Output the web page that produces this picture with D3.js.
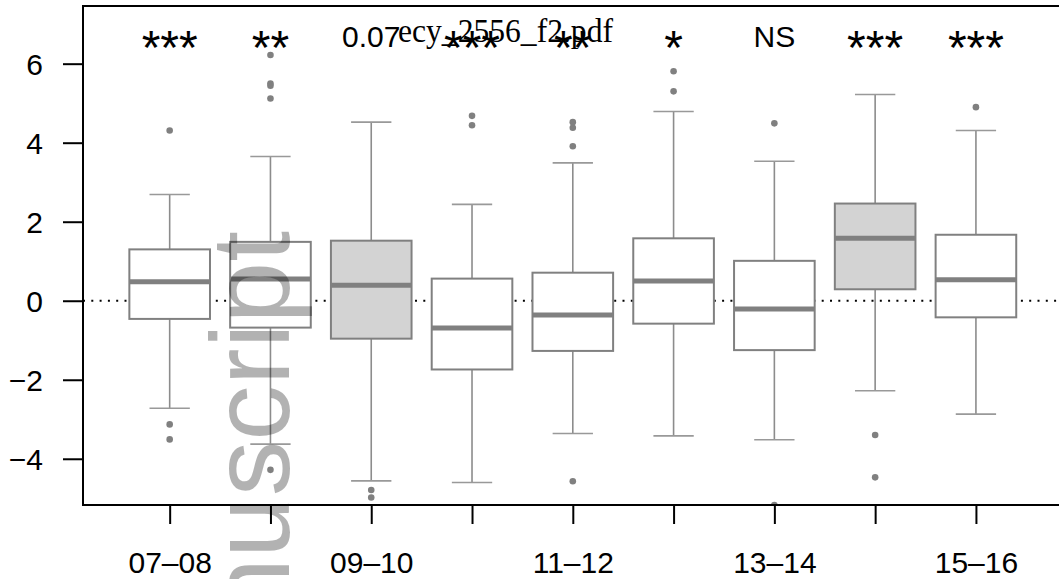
<!DOCTYPE html>
<html>
<head>
<meta charset="utf-8">
<script src="https://cdn.jsdelivr.net/npm/d3@7"></script>
<style>
  body { margin: 0; background: #fff; }
  svg { display: block; }
</style>
</head>
<body>
<script>
// seasons on the x axis (only every other one gets a label)
var seasons = ["07–08", "08–09", "09–10", "10–11", "11–12", "12–13", "13–14", "14–15", "15–16"];
var shownLabels = ["07–08", "09–10", "11–12", "13–14", "15–16"];

// box statistics
var q1 = [-0.46, -0.68, -0.96, -1.74, -1.27, -0.58, -1.25, 0.29, -0.42];
var median = [0.48, 0.55, 0.39, -0.69, -0.36, 0.50, -0.21, 1.58, 0.53];
var q3 = [1.30, 1.49, 1.52, 0.56, 0.71, 1.58, 1.01, 2.46, 1.67];
var whiskerLo = [-2.72, -3.63, -4.56, -4.60, -3.36, -3.42, -3.52, -2.28, -2.87];
var whiskerHi = [2.69, 3.65, 4.52, 2.44, 3.49, 4.79, 3.53, 5.22, 4.31];
var outliers = [
  [4.31, -3.13, -3.51],
  [6.22, 5.50, 5.44, 5.12, -4.28],
  [-4.79, -4.98],
  [4.68, 4.44],
  [4.52, 4.38, 3.91, -4.57],
  [5.81, 5.30],
  [4.49, -5.17],
  [-3.40, -4.47],
  [4.90]
];
var shaded = [false, false, true, false, false, false, false, true, false];
var signif = ["***", "**", "0.07", "***", "**", "*", "NS", "***", "***"];
var yTicks = [-4, -2, 0, 2, 4, 6];

var width = 1059, height = 579;
var plotLeft = 83, plotTop = 6, plotBottom = 505, plotRight = 1062.6;
var font = "'Liberation Sans', Arial, sans-serif";
var gray = "#808080";

var svg = d3.select("body").append("svg")
  .attr("width", width)
  .attr("height", height);

var x = d3.scaleLinear().domain([0.14, 9.86]).range([plotLeft, plotRight]);
var y = d3.scaleLinear().domain([-5.17, 7.46]).range([plotBottom, plotTop]);

svg.append("defs").append("clipPath").attr("id", "plotclip")
  .append("rect")
  .attr("x", plotLeft).attr("y", plotTop)
  .attr("width", plotRight - plotLeft).attr("height", plotBottom - plotTop);

var plot = svg.append("g").attr("clip-path", "url(#plotclip)");

// zero reference line
plot.append("line")
  .attr("x1", plotLeft).attr("x2", plotRight)
  .attr("y1", y(0)).attr("y2", y(0))
  .attr("stroke", "#000")
  .attr("stroke-width", 2)
  .attr("stroke-dasharray", "2,6.3");

var boxes = seasons.map(function (s, i) {
  return {
    season: s, pos: i + 1, q1: q1[i], med: median[i], q3: q3[i],
    lo: whiskerLo[i], hi: whiskerHi[i], out: outliers[i], shaded: shaded[i]
  };
});

var boxHalf = 0.4, capHalf = 0.2;

var node = plot.selectAll(".box")
  .data(boxes)
  .enter()
  .append("g")
  .attr("class", "box");

// whiskers
node.append("line")
  .attr("x1", function (d) { return x(d.pos); })
  .attr("x2", function (d) { return x(d.pos); })
  .attr("y1", function (d) { return y(d.hi); })
  .attr("y2", function (d) { return y(d.q3); })
  .attr("stroke", "#8c8c8c").attr("stroke-width", 1.6);
node.append("line")
  .attr("x1", function (d) { return x(d.pos); })
  .attr("x2", function (d) { return x(d.pos); })
  .attr("y1", function (d) { return y(d.q1); })
  .attr("y2", function (d) { return y(d.lo); })
  .attr("stroke", "#8c8c8c").attr("stroke-width", 1.6);

// staples
["hi", "lo"].forEach(function (k) {
  node.append("line")
    .attr("x1", function (d) { return x(d.pos - capHalf); })
    .attr("x2", function (d) { return x(d.pos + capHalf); })
    .attr("y1", function (d) { return y(d[k]); })
    .attr("y2", function (d) { return y(d[k]); })
    .attr("stroke", "#999").attr("stroke-width", 1.6);
});

// boxes
node.append("rect")
  .attr("x", function (d) { return x(d.pos - boxHalf); })
  .attr("width", function (d) { return x(d.pos + boxHalf) - x(d.pos - boxHalf); })
  .attr("y", function (d) { return y(d.q3); })
  .attr("height", function (d) { return y(d.q1) - y(d.q3); })
  .attr("fill", function (d) { return d.shaded ? "#d3d3d3" : "#fff"; })
  .attr("stroke", gray).attr("stroke-width", 2);

// medians
node.append("line")
  .attr("x1", function (d) { return x(d.pos - boxHalf); })
  .attr("x2", function (d) { return x(d.pos + boxHalf); })
  .attr("y1", function (d) { return y(d.med); })
  .attr("y2", function (d) { return y(d.med); })
  .attr("stroke", gray).attr("stroke-width", 5);

// outliers
node.selectAll("circle")
  .data(function (d) { return d.out.map(function (v) { return { pos: d.pos, v: v }; }); })
  .enter()
  .append("circle")
  .attr("cx", function (d) { return x(d.pos); })
  .attr("cy", function (d) { return y(d.v); })
  .attr("r", 3.3)
  .attr("fill", gray);

// plot frame
svg.append("rect")
  .attr("x", plotLeft).attr("y", plotTop)
  .attr("width", plotRight - plotLeft).attr("height", plotBottom - plotTop)
  .attr("fill", "none").attr("stroke", "#000").attr("stroke-width", 2);

// y axis
var yAxis = svg.append("g").attr("transform", "translate(" + plotLeft + ",0)")
  .call(d3.axisLeft(y).tickValues(yTicks).tickSize(20).tickPadding(20));
yAxis.select(".domain").remove();
yAxis.selectAll(".tick line").attr("stroke", "#000").attr("stroke-width", 2);
yAxis.selectAll(".tick text")
  .attr("font-family", font).attr("font-size", 30).attr("fill", "#000")
  .attr("dy", "0.36em");

// x axis
var xAxis = svg.append("g").attr("transform", "translate(0," + plotBottom + ")")
  .call(d3.axisBottom(x).tickValues(d3.range(1, seasons.length + 1)).tickSize(19)
    .tickFormat(function (p) {
      var s = seasons[p - 1];
      return shownLabels.indexOf(s) >= 0 ? s : "";
    }));
xAxis.select(".domain").remove();
xAxis.selectAll(".tick line").attr("stroke", "#000").attr("stroke-width", 2);
xAxis.selectAll(".tick text")
  .attr("font-family", font).attr("font-size", 30).attr("fill", "#000")
  .attr("y", 68).attr("dy", 0);

// significance labels
svg.selectAll(".sig")
  .data(signif)
  .enter()
  .append("text")
  .attr("class", "sig")
  .attr("x", function (d, i) { return x(i + 1); })
  .attr("y", function (d) { return /^\*+$/.test(d) ? 64 : 47; })
  .attr("text-anchor", "middle")
  .attr("font-family", font)
  .attr("font-size", function (d) { return /^\*+$/.test(d) ? 48 : 30; })
  .attr("fill", "#000")
  .text(function (d) { return d; });

// file name stamp and watermark
svg.append("text")
  .attr("x", 398).attr("y", 42)
  .attr("font-family", "'Liberation Serif', 'DejaVu Serif', serif")
  .attr("font-size", 34)
  .attr("textLength", 215)
  .attr("lengthAdjust", "spacingAndGlyphs")
  .attr("fill", "#000")
  .text("ecy_2556_f2.pdf");

svg.append("text")
  .attr("transform", "translate(289,231) rotate(-90)")
  .attr("text-anchor", "end")
  .attr("font-family", font)
  .attr("font-size", 111)
  .attr("fill", "#000")
  .attr("fill-opacity", 0.3)
  .text("Author Manuscript");
</script>
</body>
</html>
